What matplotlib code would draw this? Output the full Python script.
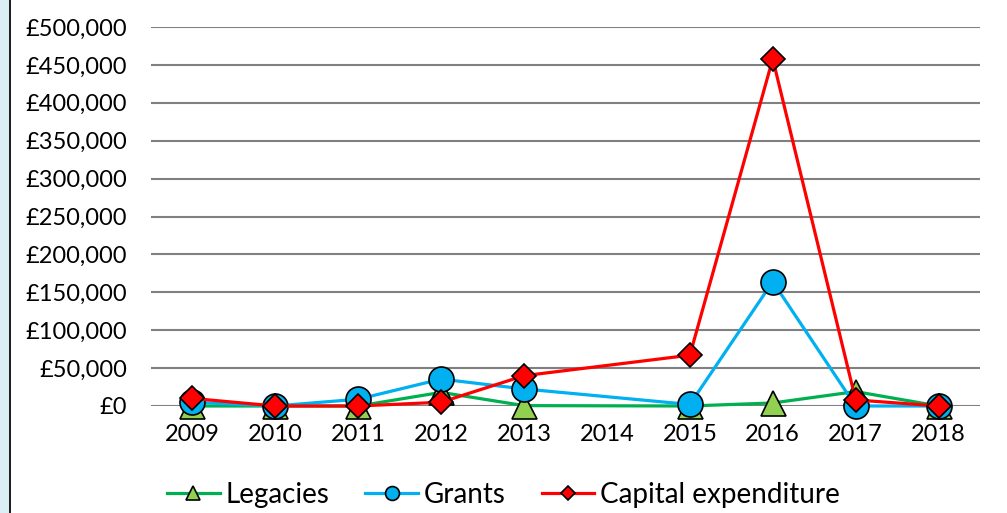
import numpy as np
import matplotlib
matplotlib.use('Agg')
import matplotlib.pyplot as plt
from matplotlib.lines import Line2D
from matplotlib.patches import Rectangle
from matplotlib.ticker import FuncFormatter

plt.rcParams['font.family'] = ['Lato', 'DejaVu Sans']

years = ['2009', '2010', '2011', '2012', '2013', '2014', '2015', '2016', '2017', '2018']
legacies = [0, 0, 0, 18000, 500, None, 0, 4000, 19000, 0]
grants = [5000, 0, 9000, 35500, 22500, None, 2000, 164000, 0, 0]
capex = [10000, 0, 0, 5000, 40000, None, 67000, 458000, 8000, 0]

fig = plt.figure(figsize=(10.07, 5.13), dpi=100)
ax = fig.add_axes([151/1007, 1 - 406/513, (980 - 151)/1007, (406 - 27)/513])

# left page strip
fig.patches.append(Rectangle((0, 0), 9/1007, 1, transform=fig.transFigure,
                             facecolor='#daeef3', edgecolor='none'))
fig.patches.append(Rectangle((9/1007, 0), 2/1007, 1, transform=fig.transFigure,
                             facecolor='#202020', edgecolor='none'))


def pts(vals):
    # skip the empty year so the line joins across it
    xs = [i for i, v in enumerate(vals) if v is not None]
    ys = [v for v in vals if v is not None]
    return xs, ys


series = [
    ('Legacies', legacies, '#00b050', '#92d050', '^', 18, 10),
    ('Grants', grants, '#00b0f0', '#00b0f0', 'o', 18, 10),
    ('Capital expenditure', capex, '#ff0000', '#ff0000', 'D', 12.5, 7),
]
handles = []
for name, vals, col, fill, mk, ms, lms in series:
    xs, ys = pts(vals)
    ax.plot(xs, ys, color=col, lw=2.3, marker=mk, ms=ms, mfc=fill,
            mec='black', mew=1.2, clip_on=False, zorder=3)
    handles.append(Line2D([], [], color=col, lw=2.3, marker=mk,
                          ms=lms, mfc=fill, mec='black', mew=1.2))

ax.set_xlim(-0.5, 9.5)
ax.set_ylim(0, 500000)
ax.set_yticks(np.arange(0, 500001, 50000))
ax.yaxis.set_major_formatter(FuncFormatter(lambda v, p: '£{:,.0f}'.format(v)))
ax.set_xticks(range(len(years)))
ax.set_xticklabels(years)
ax.grid(axis='y', color='#808080', lw=1.5)
ax.set_axisbelow(True)
for s in ax.spines.values():
    s.set_visible(False)
ax.tick_params(axis='both', length=0, labelsize=17, colors='black')
ax.tick_params(axis='y', pad=17)
ax.tick_params(axis='x', pad=13)

fig.legend(handles, [s[0] for s in series], loc='center',
           bbox_to_anchor=(0.5, 1 - 495/513), ncol=3, frameon=False,
           fontsize=20, handlelength=1.9, columnspacing=1.3, handletextpad=0.2)

fig.savefig('out.png', dpi=100)
